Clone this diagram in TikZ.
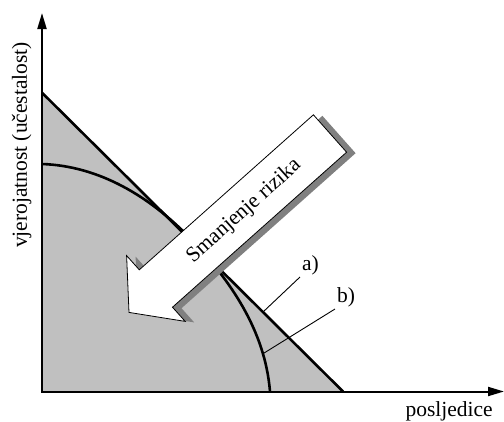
\documentclass[tikz,border=0pt]{standalone}
\usepackage{fontspec}
\setmainfont{Liberation Serif}
\usetikzlibrary{arrows.meta}
\definecolor{areagray}{RGB}{192,192,192}
\definecolor{shadowgray}{RGB}{128,128,128}

\begin{document}
\begin{tikzpicture}[x=1pt,y=-1pt,font=\fontsize{21.5}{26}\selectfont,
  axis/.style={line width=2pt,{Triangle[length=16pt,width=9pt]}-{Triangle[length=16pt,width=9pt]}},
  limit/.style={line width=2.6pt},
  leader/.style={line width=0.9pt},
  lbl/.style={inner sep=2pt,anchor=south west}]
\useasboundingbox (0,0) rectangle (504,421);
% corner points
\coordinate (O) at (42,391.5);
\coordinate (ytop) at (42,13);
\coordinate (xend) at (504,391.5);
\coordinate (A1) at (42,92.7);
\coordinate (A2) at (343,391.5);
\coordinate (B1) at (42,164);
\coordinate (Bm) at (190,238);
\coordinate (B2) at (270,391.5);
% shaded area
\fill[areagray] (A1) -- (A2) -- (O) -- cycle;
\fill[areagray] (B1) .. controls (100,166) and (150,197) .. (Bm)
  .. controls (230,280) and (265,330) .. (B2) -- (O) -- cycle;
% limit lines a) and b)
\draw[limit] (B1) .. controls (100,166) and (150,197) .. (Bm)
  .. controls (230,280) and (265,330) .. (B2);
\draw[limit] (A1) -- (A2);
% axes
\draw[axis] (ytop) -- (O) -- (xend);
\node[rotate=90, anchor=base] (ylab) at (27,145) {vjerojatnost (učestalost)};
\node[anchor=base west] (xlab) at (402,416) {posljedice};
% labels
\coordinate (pa) at (263,312);
\coordinate (pb) at (262.5,354);
\node[lbl] (la) at (300,277) {a)};
\node[lbl] (lb) at (335,309) {b)};
\draw[leader] (la.south west) -- (pa);
\draw[leader] (lb.south west) -- (pb);
% risk reduction arrow
\fill[shadowgray, shift={(9,1)}] (313.4,114.8) -- (346.6,152.2) -- (172.5,307.2)
  -- (185.2,321.4) -- (129,312.4) -- (126.6,255.6) -- (139.3,269.8) -- cycle;
\draw[fill=white, line width=0.8pt] (313.4,114.8) -- (346.6,152.2) -- (172.5,307.2)
  -- (185.2,321.4) -- (129,312.4) -- (126.6,255.6) -- (139.3,269.8) -- cycle;
\node[rotate=41.7] (risk) at (244,211) {Smanjenje rizika};
\end{tikzpicture}
\end{document}
